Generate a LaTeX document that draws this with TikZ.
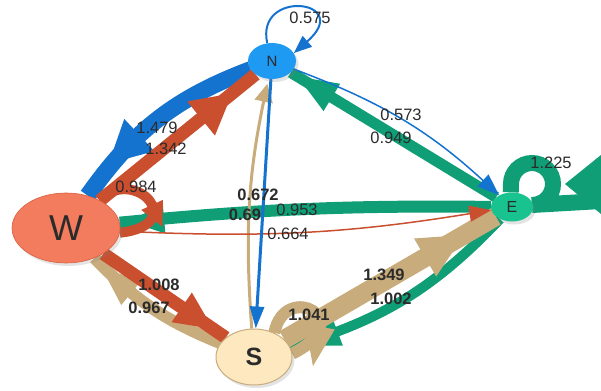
\documentclass[tikz,border=0pt]{standalone}
\usepackage{fontspec}
\setmainfont{Liberation Sans}
\usetikzlibrary{arrows.meta,decorations.markings,shadows,shapes.geometric}

\definecolor{eblue}{HTML}{1573D0}
\definecolor{nblue}{HTML}{1E9AF2}
\definecolor{ered}{HTML}{C94F2F}
\definecolor{wfill}{HTML}{F47C5E}
\definecolor{wline}{HTML}{D8603F}
\definecolor{egreen}{HTML}{0F9E75}
\definecolor{efill}{HTML}{19C38F}
\definecolor{etan}{HTML}{C8AC7C}
\definecolor{sfill}{HTML}{FDE8C0}
\definecolor{txt}{HTML}{2B2B2B}

\pgfdeclarelayer{edges}
\pgfsetlayers{edges,main}

\tikzset{
  statenode/.style={ellipse, inner sep=0pt, text=txt,
    drop shadow={shadow xshift=2.5pt, shadow yshift=-3pt, opacity=0.22}},
  flowline/.style 2 args={color=#1, line width=#2pt},
  midhead/.style n args={3}{postaction={decorate, decoration={markings,
    mark=at position #1 with {\fill (0pt,#3) -- (#2,0pt) -- (0pt,-#3) -- cycle;}}}},
  thinhead/.style 2 args={-{Triangle[length=#1pt,width=#2pt]}},
  lab/.style={font=\fontsize{16.5}{18}\selectfont, text=txt, inner sep=0pt},
  blab/.style={font=\fontsize{16.5}{18}\selectfont\bfseries, text=txt, inner sep=0pt}
}

\begin{document}
\begin{tikzpicture}[x=1pt,y=-1pt]
\useasboundingbox (0,0) rectangle (601,390);

% states
\node[statenode, fill=nblue, minimum width=48pt, minimum height=36pt,
      font=\fontsize{15}{15}\selectfont] (N) at (272,61) {N};
\node[statenode, fill=wfill, draw=wline, line width=0.6pt, minimum width=108pt,
      minimum height=70pt, font=\fontsize{36}{36}\selectfont] (W) at (66,228) {W};
\node[statenode, fill=efill, minimum width=42pt, minimum height=29pt,
      font=\fontsize{16}{16}\selectfont] (E) at (512,207) {E};
\node[statenode, fill=sfill, draw=etan, line width=1pt, minimum width=76pt,
      minimum height=56pt, font=\fontsize{25}{25}\selectfont\bfseries] (S) at (254,357) {S};

\begin{pgfonlayer}{edges}
% flows out of N
\draw[flowline={eblue}{17}, midhead={0.62}{42pt}{22pt}] (N) to[bend right=17] (W);
% flows out of E
\draw[flowline={egreen}{10}, midhead={0.8}{40pt}{15pt}] (E) to[bend left=15] (S);
\draw[flowline={egreen}{12}, midhead={0.88}{35pt}{15pt}] (E) to[bend right=3] (W);
\draw[flowline={egreen}{11}, midhead={0.8}{40pt}{16pt}] (E) -- (N);
\draw[flowline={egreen}{16}] (E.95) -- (511,184) arc[start angle=180, end angle=450, radius=21] -- (601,201);
\fill[egreen] (565,184) -- (601,155) -- (601,214) -- cycle;
% flows out of S
\draw[flowline={etan}{19}, midhead={0.666}{45pt}{22pt}] (S) -- (E);
\draw[flowline={etan}{12}, midhead={0.67}{38pt}{16pt}] (S) to[bend left=12] (W);
\draw[flowline={etan}{12}, midhead={-40pt}{40pt}{15pt}] (S.50) .. controls (285,280) and (360,320) .. (S.5);
\draw[flowline={etan}{3}, thinhead={18}{18}, shorten >=5pt] (S) to[bend left=8] (N);
% flows out of W
\draw[flowline={ered}{13}, midhead={0.65}{40pt}{22pt}] (W) -- (N);
\draw[flowline={ered}{13}, midhead={0.64}{38pt}{18pt}] (W) -- (S);
\draw[flowline={ered}{10}, midhead={0.55}{24pt}{12pt}] (W.40) .. controls (135,165) and (190,225) .. (W.355);
\draw[flowline={ered}{1.5}, thinhead={22}{16}] (W) to[bend right=6] (E);
% remaining thin flows out of N
\draw[flowline={eblue}{1.5}, thinhead={22}{16}] (N) to[bend left=11] (E);
\draw[flowline={eblue}{3}, thinhead={22}{14}] (N) -- (S);
\draw[flowline={eblue}{2}, thinhead={18}{14}] (N.105) .. controls (255,-12) and (355,0) .. (N.20);
\end{pgfonlayer}

% transition weights
\node[lab]  (l1)  at (310,18)  {0.575};
\node[lab]  (l2)  at (157,128) {1.479};
\node[lab]  (l3)  at (166,149) {1.342};
\node[lab]  (l4)  at (136,187) {0.984};
\node[blab] (l5)  at (258,195) {0.672};
\node[blab] (l6)  at (245,215) {0.69};
\node[lab]  (l7)  at (297,210) {0.953};
\node[lab]  (l8)  at (288,234) {0.664};
\node[lab]  (l9)  at (401,115) {0.573};
\node[lab]  (l10) at (391,138) {0.949};
\node[lab]  (l11) at (551,163) {1.225};
\node[blab] (l12) at (384,275) {1.349};
\node[blab] (l13) at (391,299) {1.002};
\node[blab] (l14) at (309,315) {1.041};
\node[blab] (l15) at (159,285) {1.008};
\node[blab] (l16) at (149,308) {0.967};
\end{tikzpicture}
\end{document}
